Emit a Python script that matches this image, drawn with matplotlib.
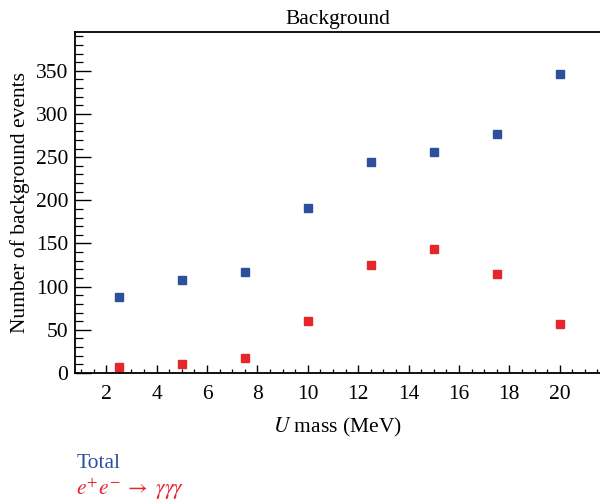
import matplotlib
matplotlib.use("Agg")
import matplotlib.pyplot as plt
from matplotlib.ticker import MultipleLocator

# U mass points (MeV) and background counts
MASS = [2.5, 5.0, 7.5, 10.0, 12.5, 15.0, 17.5, 20.0]
TOTAL = [88, 108, 117, 191, 244, 256, 277, 346]
GGG = [7, 10, 17, 60, 125, 144, 115, 57]

BLUE = "#2c4f9e"
RED = "#e5262b"
FS = 15.5

plt.rcParams["font.family"] = ["Liberation Serif", "DejaVu Serif"]
plt.rcParams["mathtext.fontset"] = "stix"

fig = plt.figure(figsize=(6.0, 5.04), dpi=100)
ax = fig.add_axes([0.125, 0.26, 0.875, 0.6765])

ax.plot(MASS, TOTAL, "s", color=BLUE, markersize=6, linestyle="none")
ax.plot(MASS, GGG, "s", color=RED, markersize=6, linestyle="none")

ax.set_xlim(0.76, 21.6)
ax.set_ylim(0, 395)
ax.xaxis.set_major_locator(MultipleLocator(2))
ax.xaxis.set_minor_locator(MultipleLocator(0.5))
ax.yaxis.set_major_locator(MultipleLocator(50))
ax.yaxis.set_minor_locator(MultipleLocator(10))
ax.tick_params(axis="x", which="major", direction="in", length=5.8, width=1.0,
               labelsize=FS, pad=9)
ax.tick_params(axis="x", which="minor", direction="in", length=2.9, width=0.9)
ax.tick_params(axis="y", which="major", direction="in", length=11.5, width=1.0,
               labelsize=FS, pad=5)
ax.tick_params(axis="y", which="minor", direction="in", length=5.8, width=0.9)

for side in ("left", "bottom", "top"):
    ax.spines[side].set_linewidth(1.3)
ax.spines["right"].set_visible(False)

ax.set_title("Background", fontsize=FS, pad=6)
ax.set_xlabel(r"$\mathit{U}$ mass (MeV)", fontsize=FS, labelpad=8)
ax.set_ylabel("Number of background events", fontsize=FS, labelpad=4)

fig.text(0.127, 0.08, "Total", color=BLUE, fontsize=FS, ha="left", va="center")
fig.text(0.127, 0.03, r"$e^{+}e^{-}\;\rightarrow\;\gamma\gamma\gamma$", color=RED,
         fontsize=FS, ha="left", va="center")

fig.savefig("out.png", dpi=100)
